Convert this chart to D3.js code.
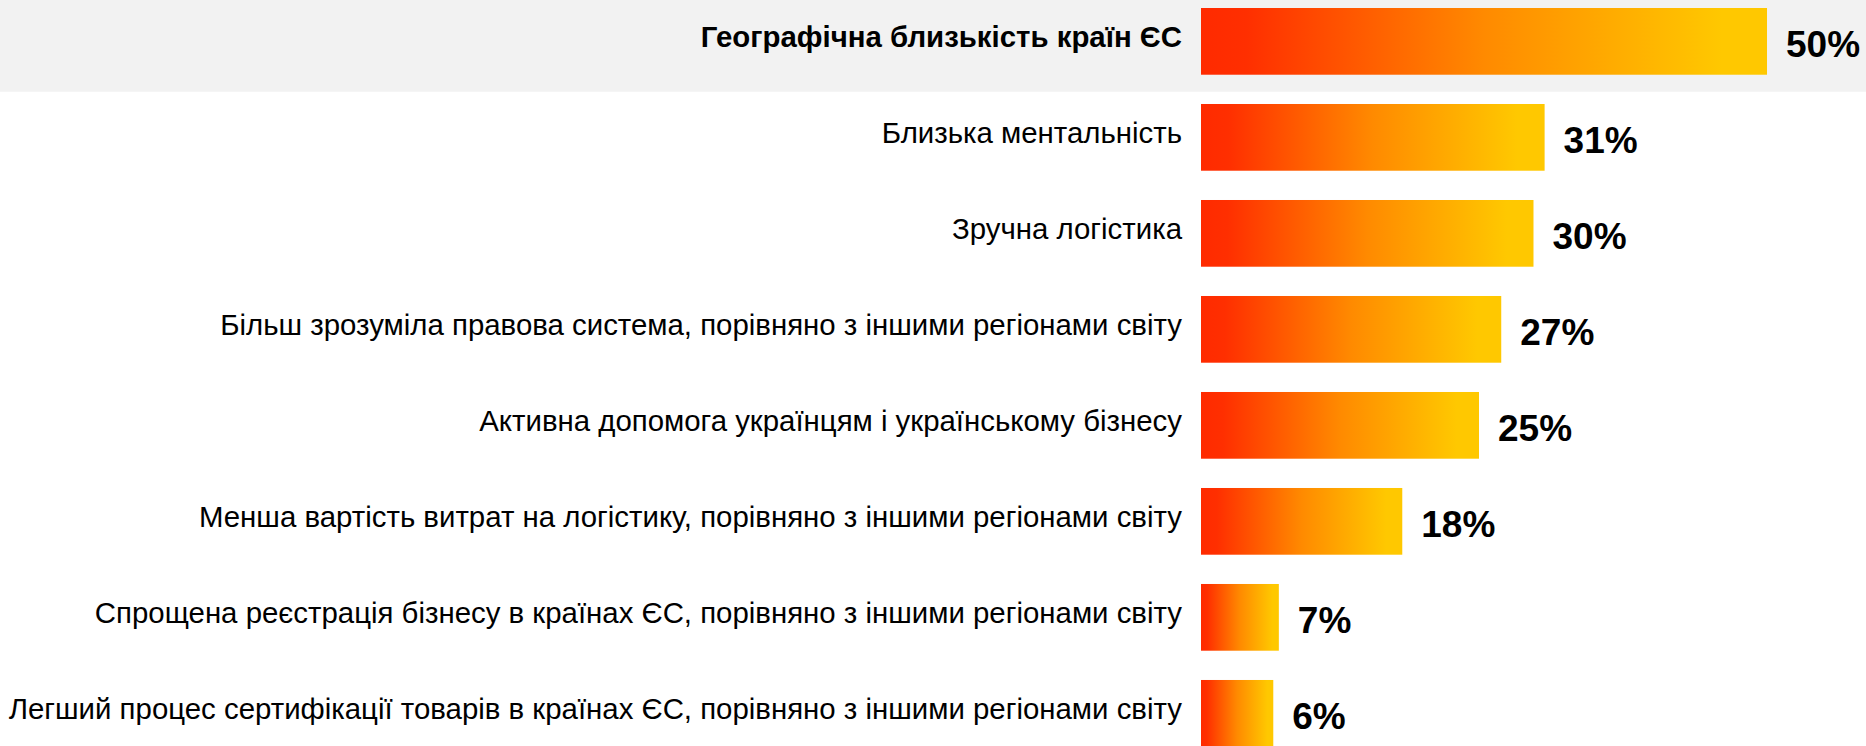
<!DOCTYPE html>
<html>
<head>
<meta charset="utf-8">
<script src="https://cdn.jsdelivr.net/npm/d3@7"></script>
<style>
  html, body { margin: 0; padding: 0; background: #ffffff; }
  svg { display: block; }
  text { font-family: "Liberation Sans", Arial, sans-serif; fill: #000; }
</style>
</head>
<body>
<svg id="chart" width="1866" height="746"></svg>
<script>
const categories = [
  "Географічна близькість країн ЄС",
  "Близька ментальність",
  "Зручна логістика",
  "Більш зрозуміла правова система, порівняно з іншими регіонами світу",
  "Активна допомога українцям і українському бізнесу",
  "Менша вартість витрат на логістику, порівняно з іншими регіонами світу",
  "Спрощена реєстрація бізнесу в країнах ЄС, порівняно з іншими регіонами світу",
  "Легший процес сертифікації товарів в країнах ЄС, порівняно з іншими регіонами світу"
];
// bar lengths (percent)
const values = [50.9, 30.9, 29.9, 27.0, 25.0, 18.1, 7.0, 6.5];
// printed value labels
const valueLabels = ["50%", "31%", "30%", "27%", "25%", "18%", "7%", "6%"];
const highlighted = ["Географічна близькість країн ЄС"];

const W = 1866, H = 746;
const svg = d3.select("#chart");

const y = d3.scaleBand()
  .domain(categories)
  .range([8, 746.7])
  .paddingInner(0.305)
  .paddingOuter(0);

const x = d3.scaleLinear().domain([0, 100]).range([1201, 1201 + 1112]);

// gradient
const defs = svg.append("defs");
const grad = defs.append("linearGradient")
  .attr("id", "barGrad")
  .attr("x1", "0").attr("y1", "0").attr("x2", "1").attr("y2", "0");
grad.append("stop").attr("offset", "0%").attr("stop-color", "#ff2a00");
grad.append("stop").attr("offset", "8%").attr("stop-color", "#ff2f00");
grad.append("stop").attr("offset", "50%").attr("stop-color", "#ff8a00");
grad.append("stop").attr("offset", "92%").attr("stop-color", "#ffc800");
grad.append("stop").attr("offset", "100%").attr("stop-color", "#ffc800");

// highlight band
svg.append("g").selectAll("rect")
  .data(categories.filter(c => highlighted.includes(c)))
  .join("rect")
  .attr("x", 0)
  .attr("y", d => y(d) - 8)
  .attr("width", W)
  .attr("height", y.bandwidth() + 25)
  .attr("fill", "#f2f2f2");

const rows = categories.map((c, i) => ({ c, v: values[i], lab: valueLabels[i] }));

// bars
svg.append("g").selectAll("rect")
  .data(rows)
  .join("rect")
  .attr("x", x(0))
  .attr("y", d => y(d.c))
  .attr("width", d => x(d.v) - x(0))
  .attr("height", y.bandwidth())
  .attr("fill", "url(#barGrad)");

// category labels
svg.append("g").selectAll("text")
  .data(rows)
  .join("text")
  .attr("x", x(0) - 19)
  .attr("y", d => y(d.c) + y.bandwidth() / 2 + 6)
  .attr("text-anchor", "end")
  .attr("font-size", 29.4)
  .attr("font-weight", d => highlighted.includes(d.c) ? "bold" : "normal")
  .text(d => d.c);

// value labels
svg.append("g").selectAll("text")
  .data(rows)
  .join("text")
  .attr("x", d => x(d.v) + 19)
  .attr("y", d => y(d.c) + y.bandwidth() / 2 + 15.5)
  .attr("text-anchor", "start")
  .attr("font-size", 37)
  .attr("font-weight", "bold")
  .text(d => d.lab);
</script>
</body>
</html>
